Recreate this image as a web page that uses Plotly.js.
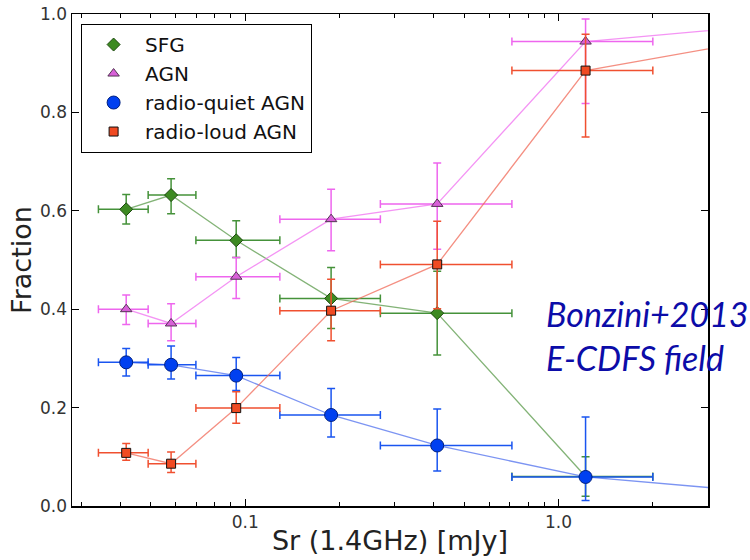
<!DOCTYPE html>
<html>
<head>
<meta charset="utf-8">
<script src="https://cdn.plot.ly/plotly-3.0.1.min.js"></script>
<style>html,body{margin:0;padding:0;background:#fff;}</style>
</head>
<body>
<div id="chart" style="width:750px;height:560px;"></div>
<script>
// Bin centres and bin edges (mJy)
const binX  = [0.0417, 0.058, 0.0936, 0.188, 0.41, 1.22];
const binLo = [0.034, 0.049, 0.0696, 0.129, 0.27, 0.71];
const binHi = [0.049, 0.0696, 0.129, 0.27, 0.71, 2.0];
// next bin (off the plotted range) that the connecting lines run to
const nextX = 4.5;

// SFG
const sfgY     = [0.603, 0.632, 0.540, 0.422, 0.392, 0.060];
const sfgUp    = [0.030, 0.033, 0.040, 0.063, 0.085, 0.040];
const sfgDown  = [0.030, 0.038, 0.035, 0.061, 0.085, 0.040];
// AGN
const agnY     = [0.400, 0.371, 0.466, 0.583, 0.614, 0.944];
const agnNext  = 0.976;
const agnUp    = [0.029, 0.040, 0.039, 0.061, 0.083, 0.046];
const agnDown  = [0.031, 0.035, 0.044, 0.064, 0.092, 0.126];
// radio-quiet AGN
const rqY      = [0.292, 0.287, 0.265, 0.185, 0.123, 0.059];
const rqNext   = 0.028;
const rqUp     = [0.028, 0.038, 0.037, 0.054, 0.074, 0.122];
const rqDown   = [0.028, 0.029, 0.030, 0.045, 0.052, 0.048];
// radio-loud AGN
const rlY      = [0.108, 0.086, 0.199, 0.397, 0.491, 0.885];
const rlNext   = 0.949;
const rlUp     = [0.019, 0.024, 0.033, 0.064, 0.088, 0.074];
const rlDown   = [0.015, 0.018, 0.031, 0.061, 0.090, 0.135];

const yTicks = [0, 0.2, 0.4, 0.6, 0.8, 1.0];
const xTicks = [0.1, 1.0];
const xTickText = ['0.1', '1.0'];
const xMinor = [0.03,0.04,0.05,0.06,0.07,0.08,0.09,0.2,0.3,0.4,0.5,0.6,0.7,0.8,0.9,2,3];

const xPlus  = binX.map((x,i) => binHi[i] - x);
const xMinus = binX.map((x,i) => x - binLo[i]);

function lineTrace(xs, ys, color){
  return {x: xs, y: ys, type:'scatter', mode:'lines', showlegend:false, hoverinfo:'skip',
          line:{color: color, width:1.3}, opacity:0.75};
}
function markTrace(name, ys, up, down, color, ecolor, symbol, size, edge){
  return {x: binX, y: ys, name: name, type:'scatter', mode:'markers',
          marker:{symbol: symbol, size: size, color: color, line:{color: edge, width:1}},
          error_x:{type:'data', symmetric:false, array:xPlus, arrayminus:xMinus, color:ecolor, thickness:1.5, width:4},
          error_y:{type:'data', symmetric:false, array:up, arrayminus:down, color:ecolor, thickness:1.5, width:4}};
}

const data = [
  lineTrace(binX, sfgY, '#5a9a4a'),
  markTrace('SFG', sfgY, sfgUp, sfgDown, '#3d8a22', '#45923a', 'diamond', 10, '#1e4a10'),
  lineTrace(binX.concat([nextX]), agnY.concat([agnNext]), '#f070f0'),
  markTrace('AGN', agnY, agnUp, agnDown, '#d860d8', '#ee66ee', 'triangle-up', 10, '#553355'),
  lineTrace(binX.concat([nextX]), rqY.concat([rqNext]), '#5070ee'),
  markTrace('radio-quiet AGN', rqY, rqUp, rqDown, '#0040f0', '#1a55f0', 'circle', 13, '#002080'),
  lineTrace(binX.concat([nextX]), rlY.concat([rlNext]), '#f06a58'),
  markTrace('radio-loud AGN', rlY, rlUp, rlDown, '#f04a22', '#f05030', 'square', 9, '#111111')
];

const layout = {
  width:750, height:560,
  margin:{l:72, r:42, t:14, b:54},
  paper_bgcolor:'#fff', plot_bgcolor:'#fff',
  font:{family:'DejaVu Sans, sans-serif', color:'#222'},
  showlegend:true,
  legend:{x:0.014, y:0.98, xanchor:'left', yanchor:'top', bgcolor:'#fff',
          bordercolor:'#000', borderwidth:1.2, font:{size:20, color:'#111'}, itemwidth:53},
  xaxis:{type:'log', range:[Math.log10(0.028), Math.log10(3.0)],
         tickmode:'array', tickvals:xTicks, ticktext:xTickText,
         ticks:'inside', ticklen:7, tickwidth:1.2, tickcolor:'#000',
         minor:{tickmode:'array', tickvals:xMinor, ticks:'inside', ticklen:4, tickwidth:1, tickcolor:'#000', showgrid:false},
         showline:true, linecolor:'#000', linewidth:1.5, mirror:'ticks',
         showgrid:false, zeroline:false, tickfont:{size:17, color:'#333'},
         title:{text:'Sr (1.4GHz) [mJy]', font:{size:27, color:'#222'}, standoff:0}},
  yaxis:{range:[0,1], tickmode:'array', tickvals:yTicks, tickformat:'.1f',
         ticks:'inside', ticklen:7, tickwidth:1.2, tickcolor:'#000',
         showline:true, linecolor:'#000', linewidth:1.5, mirror:'ticks',
         showgrid:false, zeroline:false, tickfont:{size:17, color:'#333'},
         title:{text:'Fraction', font:{size:27, color:'#222'}, standoff:0}},
  annotations:[{xref:'paper', yref:'paper', x:0.742, y:0.346, xanchor:'left', yanchor:'middle', align:'left',
                showarrow:false, text:'<i>Bonzini+2013<br>E-CDFS field</i>',
                font:{family:'Lato, sans-serif', size:34, color:'#0c0ca8'}}]
};

Plotly.newPlot('chart', data, layout, {displayModeBar:false, staticPlot:true});
</script>
</body>
</html>
